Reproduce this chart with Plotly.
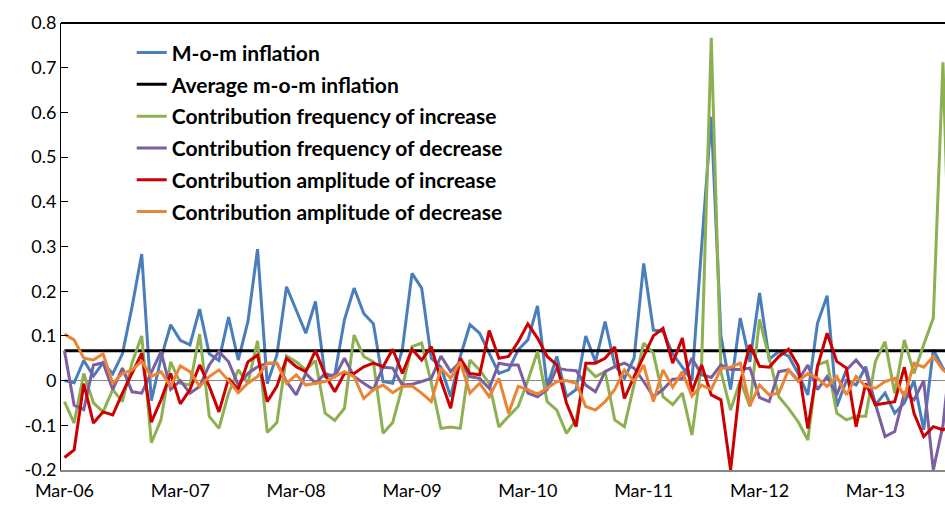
import plotly.graph_objects as go
import pandas as pd

# monthly categories Mar-06 .. Nov-13 (last one lies just beyond the visible right edge)
months = [d.strftime('%b-%y') for d in pd.date_range('2006-03-01', periods=93, freq='MS')]
tick_labels = ['Mar-06', 'Mar-07', 'Mar-08', 'Mar-09', 'Mar-10', 'Mar-11', 'Mar-12', 'Mar-13']
y_ticks = [-0.2, -0.1, 0, 0.1, 0.2, 0.3, 0.4, 0.5, 0.6, 0.7, 0.8]
y_tick_text = ['-0.2', '-0.1', '0', '0.1', '0.2', '0.3', '0.4', '0.5', '0.6', '0.7', '0.8']

mom_inflation = [
    0.0, -0.005, 0.045, 0.01, 0.04, 0.015, 0.06, 0.165, 0.283, -0.045,
    0.05, 0.125, 0.09, 0.08, 0.16, 0.06, 0.045, 0.142, 0.046, 0.132,
    0.294, -0.007, 0.057, 0.21, 0.158, 0.106, 0.177, 0.009, 0.013, 0.136,
    0.207, 0.15, 0.127, -0.002, -0.006, 0.07, 0.24, 0.207, 0.05, 0.03,
    -0.036, 0.054, 0.125, 0.106, 0.061, 0.016, 0.024, 0.069, 0.091, 0.167,
    -0.013, 0.054, -0.036, -0.02, 0.1, 0.042, 0.132, 0.035, 0.005, 0.05,
    0.262, 0.113, 0.11, 0.06, 0.03, 0.0, 0.3, 0.59, 0.1, -0.02,
    0.14, 0.042, 0.196, 0.048, 0.065, 0.055, 0.016, -0.032, 0.128, 0.19,
    -0.058, 0.0, -0.01, 0.031, -0.054, -0.028, -0.073, -0.05, 0.0, -0.11,
    0.069, 0.028, 0.0]

avg_mom_inflation = 0.067

freq_increase = [
    -0.047, -0.095, 0.016, -0.05, -0.07, -0.02, -0.047, 0.04, 0.1, -0.139,
    -0.088, 0.042, -0.006, -0.01, 0.104, -0.08, -0.107, -0.028, 0.024, -0.006,
    0.089, -0.116, -0.094, 0.055, 0.042, 0.024, 0.045, -0.073, -0.089, -0.062,
    0.102, 0.054, 0.042, -0.118, -0.094, -0.013, 0.076, 0.084, -0.005, -0.107,
    -0.104, -0.107, 0.046, 0.024, -0.006, -0.104, -0.08, -0.058, 0.0, 0.065,
    -0.047, -0.066, -0.118, -0.088, 0.031, 0.009, 0.02, -0.088, -0.103, -0.006,
    0.084, 0.061, -0.036, -0.054, -0.028, -0.122, 0.039, 0.767, 0.02, -0.066,
    0.0, -0.058, 0.137, 0.05, -0.036, -0.062, -0.092, -0.133, 0.035, 0.043,
    -0.073, -0.088, -0.08, -0.08, 0.043, 0.087, -0.028, 0.091, 0.016, 0.08,
    0.14, 0.712, 0.0]

freq_decrease = [
    0.067, -0.055, -0.065, 0.035, 0.04, -0.02, 0.028, -0.025, -0.028, 0.02,
    0.065, -0.02, 0.0, -0.028, -0.013, 0.035, 0.065, 0.042, -0.01, 0.016,
    0.031, 0.039, 0.039, -0.002, -0.032, 0.016, -0.006, 0.016, 0.009, 0.05,
    0.009, -0.006, -0.02, 0.03, 0.028, -0.01, -0.008, -0.002, 0.005, 0.055,
    0.02, 0.042, 0.009, 0.005, -0.017, 0.039, 0.035, 0.035, -0.028, -0.036,
    -0.02, 0.028, 0.024, 0.022, -0.01, -0.025, 0.02, 0.031, 0.039, 0.028,
    -0.002, -0.036, -0.02, 0.003, 0.005, 0.05, 0.013, 0.007, 0.035, 0.025,
    0.025, 0.028, -0.038, -0.047, 0.02, 0.024, 0.0, 0.035, -0.02, 0.009,
    -0.032, 0.024, 0.046, 0.02, -0.051, -0.125, -0.114, -0.028, -0.043, 0.0,
    -0.2, -0.1, 0.1]

amp_increase = [
    -0.172, -0.155, -0.007, -0.095, -0.07, -0.077, -0.028, 0.016, 0.061, -0.093,
    -0.043, 0.016, -0.052, -0.02, 0.035, -0.013, -0.07, 0.005, -0.02, 0.042,
    0.057, -0.047, -0.013, 0.05, 0.031, 0.02, 0.067, 0.013, -0.025, 0.016,
    0.016, 0.031, 0.039, 0.031, 0.07, 0.016, 0.07, 0.046, 0.076, 0.0,
    -0.062, 0.05, 0.016, 0.013, 0.112, 0.05, 0.054, 0.087, 0.127, 0.095,
    0.054, 0.035, -0.05, -0.103, 0.039, 0.039, 0.05, 0.075, -0.04, 0.009,
    0.054, 0.1, 0.117, 0.039, 0.095, -0.025, 0.035, -0.032, -0.043, -0.2,
    -0.005, 0.08, 0.032, 0.03, 0.054, 0.07, 0.033, -0.107, 0.031, 0.106,
    0.043, 0.028, -0.103, -0.006, -0.054, -0.05, -0.047, 0.03, -0.073, -0.125,
    -0.103, -0.11, -0.1]

amp_decrease = [
    0.104, 0.091, 0.05, 0.046, 0.06, -0.006, 0.016, 0.024, 0.043, 0.009,
    0.02, -0.013, 0.033, 0.02, -0.013, 0.009, 0.024, 0.0, -0.027, -0.006,
    0.009, 0.039, 0.039, -0.006, 0.013, -0.01, -0.006, -0.002, 0.009, 0.02,
    0.009, -0.04, -0.02, -0.01, -0.027, -0.013, -0.012, -0.028, -0.047, 0.028,
    0.005, 0.042, -0.028, -0.006, -0.036, 0.005, -0.073, -0.013, -0.02, -0.03,
    -0.017, -0.002, 0.0, -0.006, -0.058, -0.066, -0.047, -0.02, 0.024, -0.002,
    0.035, -0.047, 0.024, -0.015, 0.02, -0.035, -0.01, -0.02, 0.027, 0.03,
    0.039, -0.056, -0.01, -0.032, -0.028, 0.024, -0.002, 0.016, 0.005, -0.013,
    0.009, -0.032, 0.009, -0.013, -0.017, -0.002, 0.005, -0.036, 0.039, 0.03,
    0.054, 0.024, 0.01]

n = len(months)
x = list(range(n))
tick_pos = [months.index(t) for t in tick_labels]
year_sep = [p - 0.5 for p in tick_pos[1:]]

series = [
    ("M-o-m inflation", mom_inflation, "#4A7EBB"),
    ("Average m-o-m inflation", [avg_mom_inflation] * n, "#000000"),
    ("Contribution frequency of increase", freq_increase, "#8DB152"),
    ("Contribution frequency of decrease", freq_decrease, "#7B5FA0"),
    ("Contribution amplitude of increase", amp_increase, "#CC0000"),
    ("Contribution amplitude of decrease", amp_decrease, "#EB8535"),
]

fig = go.Figure()
for name, ys, col in series:
    fig.add_trace(go.Scatter(
        x=x, y=ys, mode="lines", name=name, legendgroup=name,
        line=dict(color=col, width=3),
        hoverinfo="skip"))

xr = [-0.36, 91.21]
font_fam = "Lato, 'Open Sans', sans-serif"

fig.update_layout(
    width=945, height=506,
    margin=dict(l=61, r=0, t=23, b=36),
    paper_bgcolor="white", plot_bgcolor="white",
    font=dict(family=font_fam, size=18, color="#000000"),
    showlegend=True,
    legend=dict(
        x=0.080, y=0.979, xanchor="left", yanchor="top",
        bgcolor="rgba(0,0,0,0)",
        font=dict(family=font_fam, size=21, color="#000000", weight="bold"),
        traceorder="grouped", tracegroupgap=1.5,
        itemwidth=30,
    ),
    xaxis=dict(
        range=xr, tickmode="array", tickvals=tick_pos, ticktext=tick_labels,
        showgrid=False, zeroline=False, showline=True, linecolor="#868686",
        linewidth=1.5, ticks="", tickfont=dict(size=18), ticklabelstandoff=4,
    ),
    xaxis2=dict(
        range=xr, overlaying="x", anchor="free", position=0.2,
        tickmode="array", tickvals=year_sep, showticklabels=False,
        ticks="outside", ticklen=5, tickcolor="#868686", tickwidth=1,
        showgrid=False, zeroline=False, showline=False, layer="below traces",
    ),
    yaxis=dict(
        range=[-0.2, 0.8], tickmode="array", tickvals=y_ticks, ticktext=y_tick_text,
        showgrid=False, zeroline=True, zerolinecolor="#868686", zerolinewidth=1,
        showline=True, linecolor="#000000", linewidth=1,
        ticks="inside", ticklen=7, tickcolor="#000000",
        tickfont=dict(size=18), layer="above traces",
    ),
    shapes=[dict(type="line", xref="paper", yref="paper", x0=0, x1=1, y0=1, y1=1,
                 line=dict(color="#000000", width=2))],
)

fig.write_html("out.html", config={"displayModeBar": False},
               post_script="document.body.style.margin='0';document.body.style.overflow='hidden';")
